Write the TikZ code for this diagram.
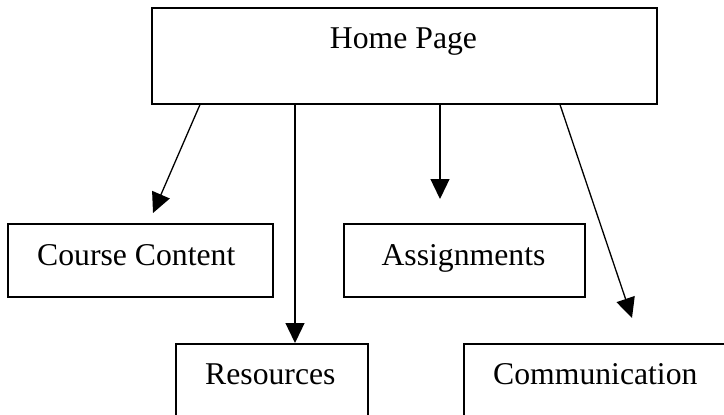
\documentclass[tikz,border=0pt]{standalone}
\usepackage{fontspec}
\setmainfont{Liberation Serif}
\usetikzlibrary{arrows.meta,calc}
\begin{document}
\begin{tikzpicture}[x=1pt,y=-1pt,
  box/.style={draw, line width=1.6pt, rectangle, inner sep=0pt, anchor=north west},
  lbl/.style={inner sep=0pt, font=\fontsize{31.7}{38}\selectfont},
  link/.style={line width=1.3pt, -{Triangle[length=20pt,width=19pt]}}]
  \useasboundingbox (0,0) rectangle (724,415);
  \clip (0,0) rectangle (724,415);

  % boxes
  \node[box, minimum width=505pt, minimum height=96pt] (home) at (151,7) {};
  \node[box, minimum width=265pt, minimum height=73pt] (cc) at (7,223) {};
  \node[box, minimum width=241pt, minimum height=73pt] (asg) at (343,223) {};
  \node[box, minimum width=192pt, minimum height=100pt] (res) at (175,343) {};
  \node[box, minimum width=290pt, minimum height=100pt] (comm) at (463,343) {};

  % labels
  \node[lbl, anchor=base] (homet) at (403.5,48) {Home Page};
  \node[lbl, anchor=base west] (cct) at (37,265) {Course Content};
  \node[lbl, anchor=base] (asgt) at (463.5,265) {Assignments};
  \node[lbl, anchor=base west] (rest) at (205,384) {Resources};
  \node[lbl, anchor=base west] (commt) at (493,384) {Communication};

  % where the connectors leave the home box
  \coordinate (scc) at ($(home.south west)+(49,0)$);
  \coordinate (sres) at ($(home.south west)+(144,0)$);
  \coordinate (sasg) at ($(home.south west)+(289,0)$);
  \coordinate (scomm) at ($(home.south west)+(409,0)$);

  % arrow tips that stop short of the boxes
  \coordinate (tipcc) at (153,213);
  \coordinate (tipasg) at (440,199);
  \coordinate (tipcomm) at (632,318);

  % connectors
  \draw[link] (scc) -- (tipcc);
  \draw[link] (sres) -- (sres |- res.north);
  \draw[link] (sasg) -- (tipasg);
  \draw[link] (scomm) -- (tipcomm);
\end{tikzpicture}
\end{document}
